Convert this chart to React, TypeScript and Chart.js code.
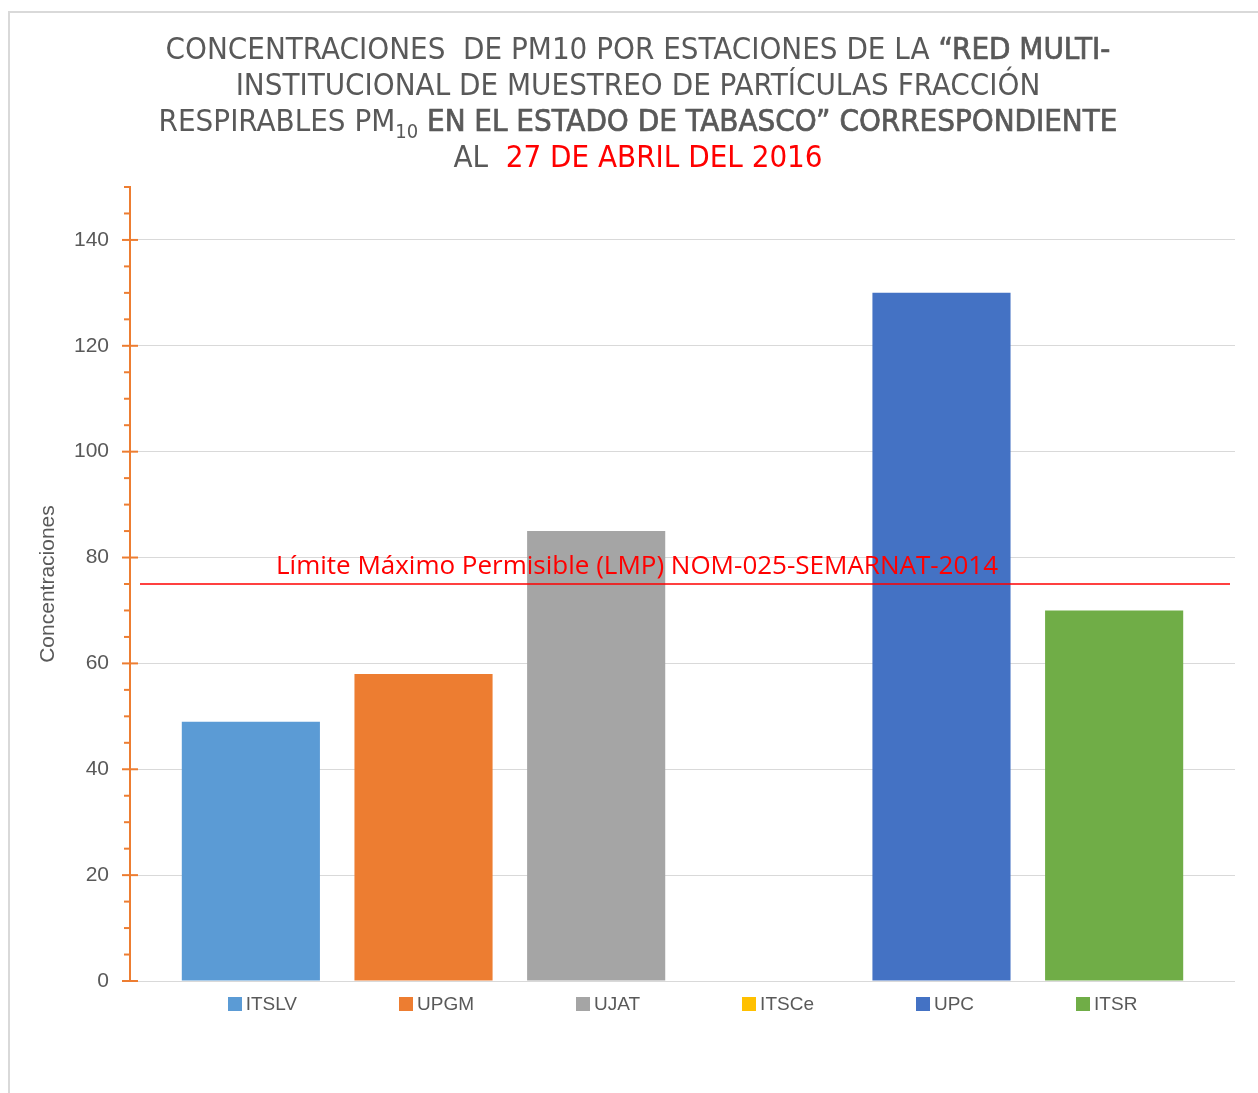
import React, { useEffect, useRef } from "react";
import { Chart, registerables } from "chart.js";

Chart.register(...registerables);

const stations = ["ITSLV", "UPGM", "UJAT", "ITSCe", "UPC", "ITSR"];
const concentrations: (number | null)[] = [49, 58, 85, null, 130, 70];
const stationColors = ["#5B9BD5", "#ED7D31", "#A5A5A5", "#FFC000", "#4472C4", "#70AD47"];
const yTickLabels = [0, 20, 40, 60, 80, 100, 120, 140];
const yMinorStep = 5;
const yMax = 150;
const lmpValue = 75;
const lmpLabel = "Límite Máximo Permisible (LMP) NOM-025-SEMARNAT-2014";
const yAxisTitle = "Concentraciones";

const GRAY = "#595959";
const ORANGE = "#ED7D31";
const RED = "#FF0000";

const overlayPlugin = {
  id: "lmpOverlay",
  afterDatasetsDraw(chart: any) {
    const { ctx, chartArea, scales } = chart;
    const y = scales.y;
    ctx.save();
    // LMP line
    const py = y.getPixelForValue(lmpValue);
    ctx.strokeStyle = RED;
    ctx.lineWidth = 1.5;
    ctx.beginPath();
    ctx.moveTo(chartArea.left + 10, py);
    ctx.lineTo(chartArea.right - 5, py);
    ctx.stroke();
    ctx.fillStyle = RED;
    ctx.font = "26px 'Open Sans', 'Liberation Sans', sans-serif";
    ctx.textAlign = "left";
    ctx.textBaseline = "alphabetic";
    ctx.fillText(lmpLabel, chartArea.left + 146, py - 10);
    // axis ticks
    ctx.strokeStyle = ORANGE;
    ctx.lineWidth = 2;
    const x = chartArea.left;
    for (let v = 0; v <= yMax; v += yMinorStep) {
      const p = y.getPixelForValue(v);
      ctx.beginPath();
      if (yTickLabels.includes(v)) {
        ctx.moveTo(x - 8, p);
        ctx.lineTo(x + 8, p);
      } else {
        ctx.moveTo(x - 6, p);
        ctx.lineTo(x, p);
      }
      ctx.stroke();
    }
    ctx.restore();
  },
};

export default function App() {
  const canvasRef = useRef<HTMLCanvasElement | null>(null);

  useEffect(() => {
    if (!canvasRef.current) return;
    const chart = new Chart(canvasRef.current, {
      type: "bar",
      data: {
        labels: [""],
        datasets: stations.map((s, i) => ({
          label: s,
          data: [concentrations[i]],
          backgroundColor: stationColors[i],
          borderWidth: 0,
          categoryPercentage: 0.9375,
          barPercentage: 0.8,
        })),
      },
      options: {
        animation: false,
        responsive: false,
        maintainAspectRatio: false,
        layout: { padding: { top: 187, left: 36, right: 23, bottom: 112 } },
        plugins: {
          title: { display: false },
          tooltip: { enabled: false },
          legend: { display: false },
        },
        scales: {
          x: { display: false },
          y: {
            min: 0,
            max: yMax,
            afterFit: (scale: any) => {
              scale.width = 94;
            },
            border: { display: true, color: ORANGE, width: 2 },
            grid: {
              drawTicks: false,
              color: (c: any) => (yTickLabels.includes(c.tick?.value) ? "#D9D9D9" : "rgba(0,0,0,0)"),
              lineWidth: 1,
            },
            ticks: {
              stepSize: yMinorStep,
              autoSkip: false,
              padding: 21,
              color: GRAY,
              font: { size: 21, family: "'Liberation Sans', sans-serif" },
              callback: (v: any) => (yTickLabels.includes(Number(v)) ? String(v) : ""),
            },
            title: {
              display: true,
              text: yAxisTitle,
              color: GRAY,
              font: { size: 21, family: "'Liberation Sans', sans-serif" },
              padding: { top: 0, bottom: 0 },
            },
          },
        },
      },
      plugins: [overlayPlugin],
    });
    return () => chart.destroy();
  }, []);

  const lineStyle: React.CSSProperties = { height: 36, lineHeight: "36px", whiteSpace: "nowrap" };
  const semiBold: React.CSSProperties = { WebkitTextStroke: "0.7px " + GRAY } as React.CSSProperties;

  return (
    <div style={{ position: "absolute", left: 0, top: 0, width: 1258, height: 1093, background: "#fff" }}>
      <div
        style={{
          position: "absolute",
          left: 8,
          top: 11,
          width: 1250,
          height: 1082,
          borderTop: "2px solid #D9D9D9",
          borderLeft: "2px solid #D9D9D9",
          boxSizing: "border-box",
        }}
      />
      <canvas ref={canvasRef} width={1258} height={1093} style={{ position: "absolute", left: 0, top: 0 }} />
      <div
        style={{
          position: "absolute",
          left: 10,
          top: 30,
          width: 1256,
          textAlign: "center",
          color: GRAY,
          fontFamily: "'DejaVu Sans Condensed', 'DejaVu Sans', sans-serif",
          fontStretch: "condensed",
          fontSize: 31,
        }}
      >
        <div style={lineStyle}>
          CONCENTRACIONES&nbsp; DE PM10 POR ESTACIONES DE LA <span style={semiBold}>“RED MULTI-</span>
        </div>
        <div style={lineStyle}>INSTITUCIONAL DE MUESTREO DE PARTÍCULAS FRACCIÓN</div>
        <div style={lineStyle}>
          RESPIRABLES PM<sub style={{ fontSize: 20 }}>10</sub>{" "}
          <span style={semiBold}>EN EL ESTADO DE TABASCO” CORRESPONDIENTE</span>
        </div>
        <div style={lineStyle}>
          AL&nbsp; <span style={{ color: RED }}>27 DE ABRIL DEL 2016</span>
        </div>
      </div>
      <div
        style={{
          position: "absolute",
          left: 130,
          top: 993,
          width: 1105,
          display: "flex",
          justifyContent: "center",
          gap: 102,
          fontFamily: "'Liberation Sans', sans-serif",
          fontSize: 19,
          color: GRAY,
          lineHeight: "22px",
        }}
      >
        {stations.map((s, i) => (
          <div key={s} style={{ display: "flex", alignItems: "center", whiteSpace: "nowrap" }}>
            <span
              style={{ display: "inline-block", width: 14, height: 14, background: stationColors[i], marginRight: 4 }}
            />
            <span>{s}</span>
          </div>
        ))}
      </div>
    </div>
  );
}
